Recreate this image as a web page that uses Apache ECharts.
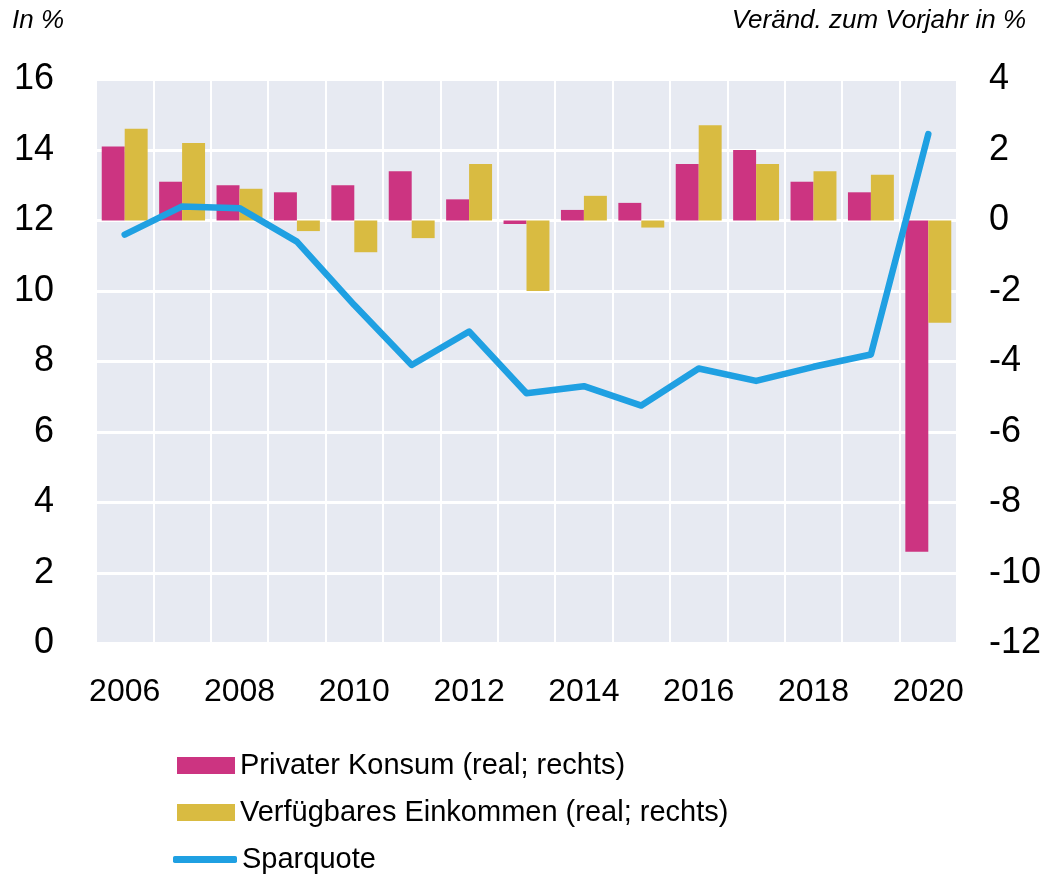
<!DOCTYPE html>
<html>
<head>
<meta charset="utf-8">
<script src="https://cdn.jsdelivr.net/npm/echarts@6/dist/echarts.min.js"></script>
<style>
  html, body { margin: 0; padding: 0; background: #fff; }
  #main { width: 1059px; height: 877px; }
</style>
</head>
<body>
<div id="main"></div>
<script>
// Jahre
const years = ['2006', '2007', '2008', '2009', '2010', '2011', '2012', '2013', '2014', '2015', '2016', '2017', '2018', '2019', '2020']
// Privater Konsum (real; rechts), Veränderung zum Vorjahr in %
const konsum = [2.1, 1.1, 1.0, 0.8, 1.0, 1.4, 0.6, -0.1, 0.3, 0.5, 1.6, 2.0, 1.1, 0.8, -9.4]
// Verfügbares Einkommen (real; rechts)
const einkommen = [2.6, 2.2, 0.9, -0.3, -0.9, -0.5, 1.6, -2.0, 0.7, -0.2, 2.7, 1.6, 1.4, 1.3, -2.9]
// Sparquote in %
const sparquote = [11.6, 12.4, 12.35, 11.4, 9.6, 7.9, 8.85, 7.1, 7.3, 6.75, 7.8, 7.45, 7.85, 8.2, 14.45]

const font = '"Liberation Sans", Arial, sans-serif'
const pink = '#CC3481'
const yellow = '#D9BB41'
const blue = '#1FA0E2'

const chart = echarts.init(document.getElementById('main'))

// eine Legende pro Zeile, damit die Abstände stimmen
const legendRow = (name, top, extra) => Object.assign({
  orient: 'vertical',
  left: 172,
  top: top,
  itemWidth: 58,
  itemHeight: 17,
  textStyle: { fontSize: 29, fontFamily: font, color: '#000' },
  data: [{ name: name, icon: 'rect' }]
}, extra || {})

const option = {
  animation: false,
  textStyle: { fontFamily: font, color: '#000' },
  graphic: [
    {
      type: 'text',
      left: 12,
      top: 8,
      style: { text: 'In %', font: 'italic 26px ' + font, fill: '#000' }
    },
    {
      type: 'text',
      right: 33,
      top: 8,
      style: { text: 'Veränd. zum Vorjahr in %', font: 'italic 26px ' + font, fill: '#000' }
    }
  ],
  grid: {
    left: 96,
    right: 102,
    top: 79.5,
    bottom: 233.5,
    show: true,
    backgroundColor: '#E7EAF2',
    borderWidth: 0
  },
  legend: [
    legendRow('Privater Konsum (real; rechts)', 746),
    legendRow('Verfügbares Einkommen (real; rechts)', 793),
    legendRow('Sparquote', 840, {
      left: 168,
      itemWidth: 64,
      itemHeight: 7,
      data: [{ name: 'Sparquote', icon: 'roundRect', itemStyle: { color: blue } }]
    })
  ],
  xAxis: {
    type: 'category',
    data: years,
    axisLine: { show: false },
    axisTick: { show: false },
    axisLabel: { interval: 1, fontSize: 32, margin: 33, color: '#000' },
    splitLine: { show: true, interval: 0, lineStyle: { color: '#fff', width: 2 } }
  },
  yAxis: [
    {
      type: 'value',
      min: 0,
      max: 16,
      interval: 2,
      axisLine: { show: false },
      axisTick: { show: false },
      axisLabel: { fontSize: 36, margin: 42, color: '#000' },
      splitLine: { show: true, lineStyle: { color: '#fff', width: 3 } }
    },
    {
      type: 'value',
      min: -12,
      max: 4,
      interval: 2,
      position: 'right',
      axisLine: { show: false },
      axisTick: { show: false },
      axisLabel: { fontSize: 36, margin: 32, color: '#000', align: 'left' },
      splitLine: { show: false }
    }
  ],
  series: [
    {
      name: 'Privater Konsum (real; rechts)',
      type: 'bar',
      yAxisIndex: 1,
      data: konsum,
      barGap: '0%',
      barCategoryGap: '20%',
      itemStyle: { color: pink }
    },
    {
      name: 'Verfügbares Einkommen (real; rechts)',
      type: 'bar',
      yAxisIndex: 1,
      data: einkommen,
      barGap: '0%',
      barCategoryGap: '20%',
      itemStyle: { color: yellow }
    },
    {
      name: 'Sparquote',
      type: 'line',
      yAxisIndex: 0,
      data: sparquote,
      symbol: 'none',
      lineStyle: { color: blue, width: 6.5, cap: 'round', join: 'round' },
      itemStyle: { color: blue },
      z: 5
    }
  ]
}

chart.setOption(option)
</script>
</body>
</html>
